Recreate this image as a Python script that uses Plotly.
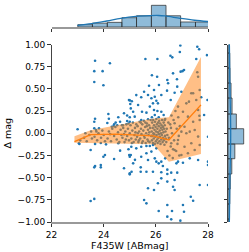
import plotly.graph_objects as go

# ---------------- data ----------------
# outlying points (above band)
hi_x = [23.67, 24.24, 23.64, 23.96, 23.64, 23.99, 24.97, 24.18, 23.67, 24.2, 24.56, 24.78, 23.64, 24.14,
        24.46, 24.63, 24.9, 23.0, 23.64, 23.82, 23.71, 24.31, 24.9, 24.7, 24.4,
        26.94, 27.59, 27.66, 26.92, 27.96, 26.56, 26.63, 25.6, 26.06, 27.55, 25.85, 26.05, 26.66, 26.95,
        27.02, 27.08, 26.44, 26.81, 26.47, 25.74, 26.12, 26.82, 27.59, 27.62, 25.55, 25.93, 26.21, 26.43,
        26.57, 26.72, 26.98, 27.27, 27.36, 27.74, 27.98, 25.0, 25.08, 25.02, 25.25, 25.44, 25.7, 25.83,
        25.96, 26.02, 26.08, 25.89, 25.77, 25.32, 25.04, 25.13, 25.47, 25.64, 25.93, 26.06, 26.21, 26.3,
        25.96, 25.85, 26.11, 26.34, 25.19, 25.0, 25.44, 25.7, 25.0,
        26.85, 27.04, 27.23, 27.43, 27.62, 27.68, 27.49, 27.1, 26.98, 27.3, 26.72, 27.17, 27.55, 27.68,
        27.43, 27.85, 27.67, 28.0]
hi_y = [0.817, 0.788, 0.70, 0.70, 0.577, 0.54, 0.375, 0.217, 0.164, 0.164, 0.18, 0.225, 0.13, 0.115,
        0.12, 0.13, 0.138, 0.045, 0.055, 0.055, 0.037, 0.074, 0.2, 0.09, 0.1,
        0.99, 0.975, 0.946, 0.915, 0.88, 0.874, 0.855, 0.837, 0.837, 0.837, 0.653, 0.637, 0.675, 0.694,
        0.70, 0.713, 0.6, 0.608, 0.563, 0.536, 0.544, 0.525, 0.687, 0.637, 0.468, 0.487, 0.431, 0.48,
        0.375, 0.457, 0.468, 0.356, 0.45, 0.405, 0.375, 0.37, 0.36, 0.33, 0.43, 0.405, 0.431, 0.394,
        0.412, 0.367, 0.337, 0.337, 0.3, 0.318, 0.28, 0.243, 0.243, 0.232, 0.262, 0.25, 0.243, 0.206,
        0.206, 0.18, 0.18, 0.15, 0.187, 0.18, 0.15, 0.157, 0.13,
        0.3, 0.243, 0.187, 0.13, 0.262, 0.15, 0.037, 0.074, 0.018, 0.018, 0.112, 0.337, 0.375, 0.487,
        0.45, 0.206, 0.198, -0.04]

# outlying points (below band)
lo_x = [23.07, 23.05, 23.5, 23.67, 23.89, 24.09, 23.99, 24.05, 23.64, 23.67, 23.89, 23.89, 23.5, 23.64,
        24.63, 24.78, 24.98, 25.0, 25.0, 24.56, 24.4, 25.07, 25.2,
        25.06, 25.25, 25.44, 25.64, 25.77, 25.89, 26.02, 24.95, 25.04, 25.13, 25.44, 25.64, 25.83, 25.7,
        25.96, 26.02, 26.11, 26.21, 26.27, 26.36, 25.42, 25.42, 25.64, 25.89, 25.0, 26.21, 26.44, 26.44,
        26.59, 26.79, 26.85, 27.04, 27.3, 27.62, 28.0, 28.0, 26.82, 26.21, 26.72, 26.44, 26.08, 25.7,
        25.93, 26.66, 26.72, 27.68, 28.0, 27.34, 27.43, 25.55, 25.64, 26.44, 27.04, 26.11, 26.62, 27.08,
        26.44, 26.59, 26.94,
        26.85, 27.1, 27.36, 27.49, 26.98, 27.23, 27.62, 26.72, 26.59, 27.17, 27.68]
lo_y = [-0.121, -0.113, -0.189, -0.12, -0.11, -0.125, -0.264, -0.245, -0.384, -0.369, -0.358, -0.384,
        -0.763, -0.74, -0.196, -0.395, -0.245, -0.264, -0.463, -0.113, -0.29, -0.433, -0.3,
        -0.152, -0.17, -0.152, -0.144, -0.144, -0.132, -0.17, -0.18, -0.245, -0.339, -0.264, -0.226,
        -0.207, -0.301, -0.283, -0.32, -0.339, -0.32, -0.369, -0.283, -0.384, -0.433, -0.433, -0.433,
        -0.451, -0.44, -0.41, -0.46, -0.444, -0.339, -0.32, -0.332, -0.283, -0.301, -0.32, -0.358,
        -0.444, -0.508, -0.527, -0.545, -0.564, -0.62, -0.64, -0.602, -0.64, -0.583, -0.583, -0.715,
        -0.76, -0.752, -0.79, -0.808, -0.808, -0.876, -0.876, -0.884, -0.94, -0.97, -0.985,
        -0.076, -0.152, -0.113, -0.189, -0.245, -0.226, -0.038, -0.189, -0.113, 0.0, -0.132]

# points inside the band
core_x = [23.1, 23.25, 23.35, 23.45, 23.55, 23.3, 23.52,
          23.65, 23.75, 23.8, 23.9, 23.95, 24.05, 24.0, 23.72,
          24.15, 24.2, 24.28, 24.33, 24.4, 24.45, 24.5, 24.55, 24.6, 24.65, 24.68, 24.25, 24.38, 24.52,
          24.72, 24.75, 24.8, 24.83, 24.87, 24.9, 24.93, 24.97, 25.0, 25.03, 25.06, 25.1, 25.12, 25.15,
          25.18, 25.2, 25.23, 25.25, 24.78, 24.95, 25.08, 24.85, 25.22, 24.74,
          25.28, 25.3, 25.33, 25.36, 25.38, 25.4, 25.43, 25.45, 25.48, 25.5, 25.52, 25.54, 25.57, 25.59,
          25.61, 25.63, 25.66, 25.68, 25.7, 25.72, 25.74, 25.76, 25.78, 25.8, 25.82, 25.35, 25.42, 25.55,
          25.65, 25.75, 25.31, 25.47, 25.6, 25.71,
          25.84, 25.85, 25.86, 25.87, 25.88, 25.89, 25.9, 25.91, 25.92, 25.93, 25.94, 25.95, 25.96, 25.97,
          25.98, 25.99, 26.0, 26.01, 26.02, 26.03, 26.04, 26.05, 26.06, 26.07, 26.08, 26.09, 26.1, 26.11,
          26.12, 26.13, 26.14, 26.15, 26.16, 26.17, 26.18, 26.19, 26.2, 26.21, 26.22, 26.23, 26.24, 26.25,
          26.26, 26.27, 26.28, 26.29, 26.3, 26.31, 26.32, 26.33, 26.34, 26.35, 26.36, 26.37, 26.38,
          26.4, 26.42, 26.45, 26.48, 26.5, 26.52, 26.55, 26.57, 26.6, 26.62, 26.65, 26.68, 26.7, 26.75,
          26.78, 26.8, 26.83, 26.86, 26.9, 26.92, 26.44, 26.58, 26.66, 26.88]
core_y = [-0.08, -0.05, -0.09, -0.02, -0.06, 0.0, 0.02,
          -0.04, -0.08, 0.0, -0.05, 0.03, -0.09, -0.02, 0.02,
          -0.06, 0.02, -0.09, 0.05, -0.03, 0.07, -0.07, 0.01, -0.1, 0.04, -0.02, -0.01, 0.08, 0.09,
          -0.05, 0.06, -0.1, 0.02, 0.1, -0.03, 0.05, -0.08, 0.0, 0.09, -0.06, 0.03, 0.12, -0.1,
          -0.02, 0.06, -0.07, 0.1, -0.01, 0.11, -0.11, -0.07, 0.01, 0.09,
          -0.04, 0.08, -0.1, 0.02, 0.13, -0.06, 0.05, -0.01, 0.1, -0.09, 0.03, 0.14, -0.05, 0.07,
          -0.11, 0.0, 0.11, -0.07, 0.04, -0.02, 0.09, -0.1, 0.06, 0.15, -0.03, -0.08, 0.12, -0.03,
          0.08, 0.01, 0.0, -0.11, 0.12, -0.09,
          0.02, -0.08, 0.12, -0.03, 0.06, -0.11, 0.15, 0.0, -0.06, 0.09, -0.01, 0.04, -0.12, 0.13,
          -0.04, 0.07, -0.09, 0.02, 0.16, -0.02, 0.1, -0.07, 0.05, -0.11, 0.01, 0.12, -0.05, 0.08,
          -0.01, 0.14, -0.09, 0.03, -0.04, 0.11, -0.12, 0.06, 0.0, -0.07, 0.09, -0.02, 0.15, 0.04,
          -0.1, 0.07, -0.05, 0.01, 0.12, -0.08, 0.05, -0.13, 0.09, -0.03, 0.16, 0.02, -0.06,
          -0.1, 0.05, -0.2, 0.12, -0.05, -0.25, 0.1, -0.15, 0.2, 0.0, -0.28, 0.15, -0.08, 0.25,
          -0.2, 0.05, -0.12, 0.18, -0.25, 0.08, -0.02, 0.06, -0.18, -0.03]

# running median and percentile band
band_x = [22.88, 23.5, 24.5, 25.9, 26.5, 27.73]
band_med = [-0.095, -0.015, -0.01, -0.03, -0.076, 0.32]
band_hi = [-0.035, 0.035, 0.09, 0.165, 0.18, 0.86]
band_lo = [-0.108, -0.112, -0.118, -0.125, -0.32, -0.235]

# top marginal histogram (F435W)
top_edges = [23.01, 23.57, 24.14, 24.70, 25.26, 25.83, 26.39, 26.95, 27.52, 28.08]
top_counts = [12, 20, 24, 48, 58, 112, 58, 26, 26]
top_kde_x = [22.99, 23.54, 24.12, 24.66, 25.23, 25.79, 26.1, 26.35, 26.93, 27.48, 28.04]
top_kde_c = [8.8, 17.5, 31, 45, 55, 59, 59.5, 57, 45, 35, 28]

# right marginal histogram (delta mag)
right_edges = [-1.136, -0.966, -0.797, -0.628, -0.459, -0.287, -0.121, 0.051, 0.217, 0.397, 0.566,
               0.735, 0.904, 1.073]
right_counts = [4, 6, 7, 9, 15, 27, 62, 33, 16, 12, 8, 7, 6]
right_kde_y = [-1.1, -0.5, -0.2, 0.0, 0.2, 0.5, 1.1]
right_kde_c = [5, 7.5, 10, 10.7, 10, 7.5, 5]

# ---------------- figure ----------------
W, H = 249, 252
BLUE = "#1f77b4"
ORANGE = "#ff7f0e"
FONT = "DejaVu Sans"

fig = go.Figure()

fig.add_trace(go.Scatter(x=hi_x + lo_x + core_x, y=hi_y + lo_y + core_y, mode="markers",
                         marker=dict(color=BLUE, size=2.6, line=dict(width=0)),
                         showlegend=False, hoverinfo="skip"))
fig.add_trace(go.Scatter(x=band_x, y=band_lo, mode="lines", line=dict(width=0),
                         showlegend=False, hoverinfo="skip"))
fig.add_trace(go.Scatter(x=band_x, y=band_hi, mode="lines", line=dict(width=0),
                         fill="tonexty", fillcolor="rgba(255,127,14,0.5)",
                         showlegend=False, hoverinfo="skip"))
fig.add_trace(go.Scatter(x=band_x, y=band_med, mode="lines", line=dict(color=ORANGE, width=1.4),
                         showlegend=False, hoverinfo="skip"))

top_c = [(top_edges[i] + top_edges[i + 1]) / 2 for i in range(len(top_counts))]
top_w = [top_edges[i + 1] - top_edges[i] for i in range(len(top_counts))]
fig.add_trace(go.Bar(x=top_c, y=top_counts, width=top_w, xaxis="x2", yaxis="y2",
                     marker=dict(color="rgba(31,119,180,0.5)", line=dict(color="rgba(50,50,50,0.75)", width=1)),
                     showlegend=False, hoverinfo="skip"))
fig.add_trace(go.Scatter(x=top_kde_x, y=top_kde_c, mode="lines", line=dict(color=BLUE, width=1.3, shape="spline"),
                         xaxis="x2", yaxis="y2", showlegend=False, hoverinfo="skip"))

r_c = [(right_edges[i] + right_edges[i + 1]) / 2 for i in range(len(right_counts))]
r_w = [right_edges[i + 1] - right_edges[i] for i in range(len(right_counts))]
fig.add_trace(go.Bar(y=r_c, x=right_counts, width=r_w, orientation="h", xaxis="x3", yaxis="y3",
                     marker=dict(color="rgba(31,119,180,0.5)", line=dict(color="rgba(50,50,50,0.75)", width=1)),
                     showlegend=False, hoverinfo="skip"))
fig.add_trace(go.Scatter(x=right_kde_c, y=right_kde_y, mode="lines", line=dict(color=BLUE, width=1.3, shape="spline"),
                         xaxis="x3", yaxis="y3", showlegend=False, hoverinfo="skip"))

xd = [51.5 / W, 208 / W]
yd = [(H - 222) / H, (H - 44.5) / H]
tick_font = dict(family=FONT, size=9, color="black")

fig.update_layout(
    width=W, height=H, margin=dict(l=0, r=0, t=0, b=0, autoexpand=False),
    paper_bgcolor="white", plot_bgcolor="white", bargap=0,
    font=dict(family=FONT, size=9, color="black"),
    xaxis=dict(domain=xd, range=[22, 28], anchor="y", tickvals=[22, 24, 26, 28], ticktext=["22", "24", "26", "28"],
               showline=True, linecolor="#999999", linewidth=1.5, ticks="outside", ticklen=3.5, tickwidth=1,
               tickcolor="#333333", showgrid=False, zeroline=False, tickfont=tick_font, automargin=False,
               title=dict(text="F435W [ABmag]", font=dict(family=FONT, size=9.5), standoff=3)),
    yaxis=dict(domain=yd, range=[-1, 1], anchor="x", tickvals=[-1, -0.75, -0.5, -0.25, 0, 0.25, 0.5, 0.75, 1],
               tickformat=".2f", showline=True, linecolor="#444444", linewidth=1, ticks="outside", ticklen=3.5,
               tickwidth=1, tickcolor="#333333", showgrid=False, zeroline=False, tickfont=tick_font, automargin=False,
               title=dict(text="Δ mag", font=dict(family=FONT, size=9.5), standoff=4)),
    xaxis2=dict(domain=xd, matches="x", anchor="y2", showticklabels=False, showline=True, linecolor="#999999",
                linewidth=1.5, ticks="outside", ticklen=3, tickwidth=1, tickcolor="#333333", automargin=False,
                tickvals=[22, 24, 26, 28], showgrid=False, zeroline=False),
    yaxis2=dict(domain=[(H - 27) / H, (H - 3) / H], range=[0, 124], anchor="x2", visible=False, automargin=False),
    xaxis3=dict(domain=[228 / W, 1.0], range=[0, 83], anchor="y3", visible=False, automargin=False),
    yaxis3=dict(domain=yd, matches="y", anchor="x3", showticklabels=False, showline=True, linecolor="#444444",
                linewidth=1, ticks="outside", ticklen=3, tickwidth=1, tickcolor="#333333", automargin=False,
                tickvals=[-1, -0.75, -0.5, -0.25, 0, 0.25, 0.5, 0.75, 1], showgrid=False, zeroline=False),
)

fig.write_html("out.html", config={"displayModeBar": False, "staticPlot": True},
               post_script="document.body.style.margin='0';document.body.style.overflow='hidden';")
